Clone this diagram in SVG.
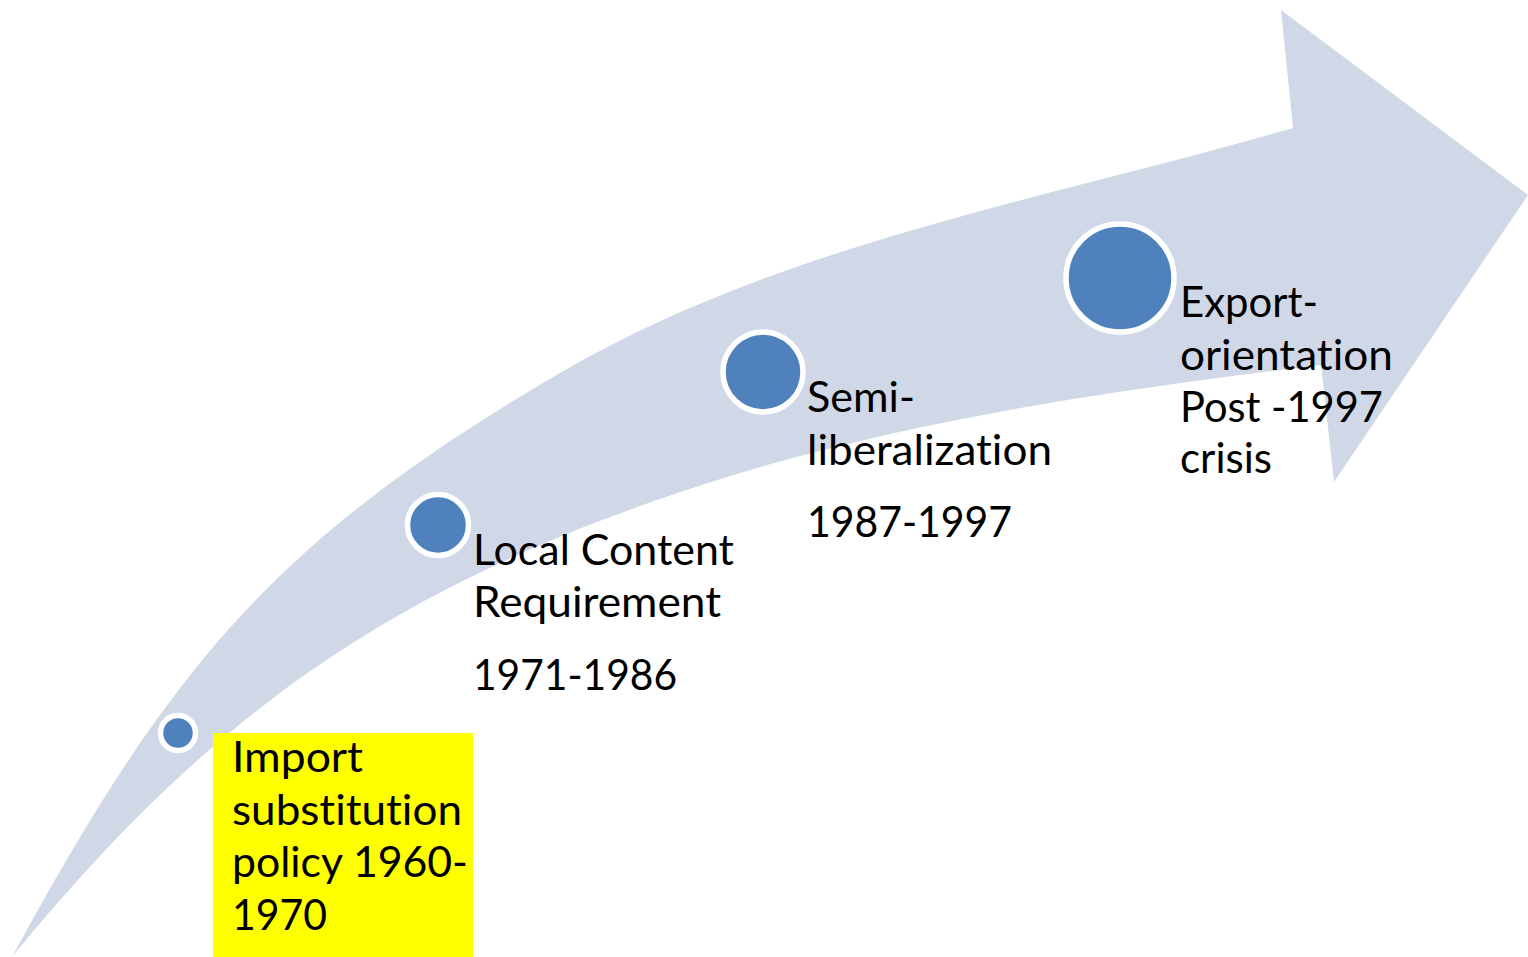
<svg xmlns="http://www.w3.org/2000/svg" width="1528" height="957" viewBox="0 0 1528 957">
<style>
.dot{fill:#4F81BD;stroke:#FFFFFF;stroke-width:5.5}
.lbl{font-family:Lato,"Liberation Sans",sans-serif;font-size:43px;fill:#000000;font-variant-ligatures:none;font-feature-settings:"liga" 0,"clig" 0}
</style>
<rect width="1528" height="957" fill="#FFFFFF"/>
<g id="arrow">
<path d="M12,957 C170,667 275,539 560,373 C783,243 1045,200 1293,128 L1281,10 L1528,195 L1334,482 L1321,365 C1097,392 870,425 657,500 C374,599 202,725 12,957 Z" fill="#D0D8E8"/>
</g>
<g id="connectors"></g>
<g id="node1">
<circle class="dot" cx="178" cy="733" r="17.5"/>
<rect x="213" y="733" width="260" height="224" fill="#FFFF00"/>
<text class="lbl"><tspan x="232" y="772" textLength="131" lengthAdjust="spacingAndGlyphs">Import</tspan><tspan x="232" y="825" textLength="230" lengthAdjust="spacingAndGlyphs">substitution</tspan><tspan x="232" y="877" textLength="236" lengthAdjust="spacingAndGlyphs">policy 1960-</tspan><tspan x="232" y="930" textLength="95" lengthAdjust="spacingAndGlyphs">1970</tspan></text>
</g>
<g id="node2">
<circle class="dot" cx="438" cy="525" r="30.5"/>
<text class="lbl"><tspan x="473" y="565" textLength="261" lengthAdjust="spacingAndGlyphs">Local Content</tspan><tspan x="473" y="617" textLength="248" lengthAdjust="spacingAndGlyphs">Requirement</tspan><tspan x="473" y="690" textLength="204" lengthAdjust="spacingAndGlyphs">1971-1986</tspan></text>
</g>
<g id="node3">
<circle class="dot" cx="763" cy="372" r="40"/>
<text class="lbl"><tspan x="807" y="412" textLength="108" lengthAdjust="spacingAndGlyphs">Semi-</tspan><tspan x="807" y="465" textLength="245" lengthAdjust="spacingAndGlyphs">liberalization</tspan><tspan x="807" y="537" textLength="205" lengthAdjust="spacingAndGlyphs">1987-1997</tspan></text>
</g>
<g id="node4">
<circle class="dot" cx="1120" cy="278" r="54"/>
<text class="lbl"><tspan x="1180" y="317" textLength="138" lengthAdjust="spacingAndGlyphs">Export-</tspan><tspan x="1180" y="370" textLength="213" lengthAdjust="spacingAndGlyphs">orientation</tspan><tspan x="1180" y="422" textLength="203" lengthAdjust="spacingAndGlyphs">Post -1997</tspan><tspan x="1180" y="473" textLength="92" lengthAdjust="spacingAndGlyphs">crisis</tspan></text>
</g>
</svg>
